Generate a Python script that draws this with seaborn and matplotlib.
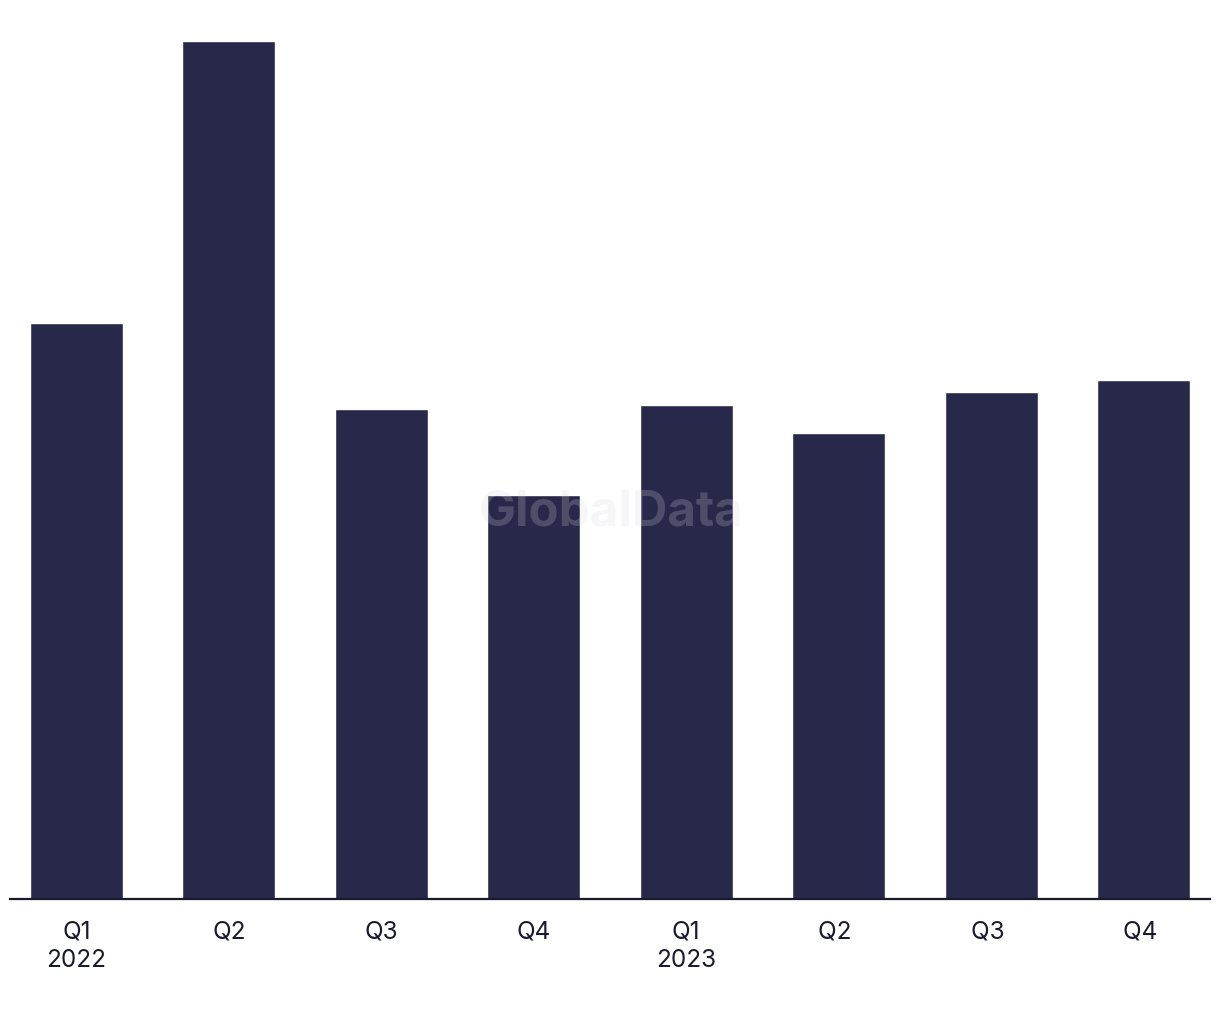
import pandas as pd
import seaborn as sns
import matplotlib.pyplot as plt

quarters = ["Q1\n2022", "Q2", "Q3", "Q4", "Q1\n2023", "Q2 ", "Q3 ", "Q4 "]
values = [576, 858, 490, 404, 494, 466, 507, 519]

df = pd.DataFrame({"quarter": quarters, "value": values})

sns.set_theme(style="white")
plt.rcParams['font.family'] = ['Inter', 'DejaVu Sans']

fig = plt.figure(figsize=(12.2, 10.2), dpi=100)
ax = fig.add_axes([10 / 1220, 120 / 1020, 1200 / 1220, 900 / 1020])

sns.barplot(data=df, x="quarter", y="value", color="#28284a", width=0.61,
            saturation=1, ax=ax)

ax.set_xlim(-0.436, 7.436)
ax.set_ylim(0, 900)
ax.set_xlabel("")
ax.set_ylabel("")
ax.set_yticks([])
for s in ["top", "right", "left"]:
    ax.spines[s].set_visible(False)
ax.spines["bottom"].set_color("#1a1a2e")
ax.spines["bottom"].set_linewidth(1.6)
ax.tick_params(axis="x", length=0, pad=15, labelsize=17.5, labelcolor="#1a1a2e")
for lbl in ax.get_xticklabels():
    lbl.set_linespacing(1.3)

fig.text(611 / 1220, 1 - 512 / 1020, "GlobalData", ha="center", va="center",
         fontsize=35.5, fontweight="bold", color="#d8d8e0", alpha=0.22)

fig.savefig("out.png", dpi=100)
